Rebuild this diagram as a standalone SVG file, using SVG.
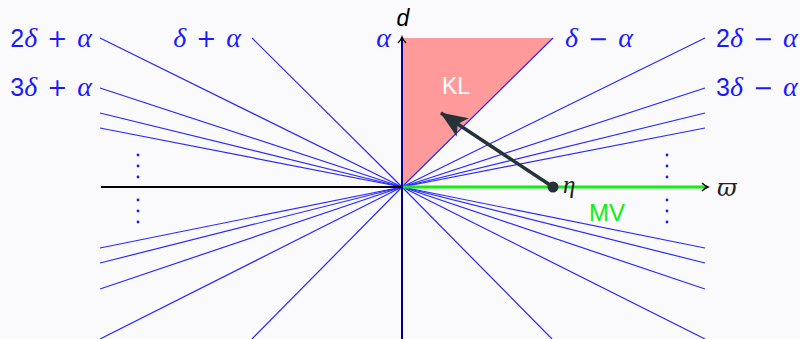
<svg xmlns="http://www.w3.org/2000/svg" width="800" height="339" viewBox="0 0 800 339">
<defs>
<style>
.ray{stroke:#2828ff;stroke-width:1.2;fill:none}
.lbl{font-family:"Liberation Serif",serif;font-size:28px;fill:#1a1aff;word-spacing:3px}
.it{font-style:italic}
.num{font-family:"Liberation Sans",sans-serif;font-style:normal;font-size:25px}
.op{font-family:"DejaVu Sans",sans-serif;font-size:24px}
.dot{fill:#1a1aff}
</style>
<marker id="tip" markerWidth="10" markerHeight="10" refX="7" refY="5" orient="auto" markerUnits="userSpaceOnUse">
<path d="M2,1 Q5,4 8,5 Q5,6 2,9" fill="none" stroke="#000" stroke-width="1.4"/>
</marker>
<marker id="big" markerWidth="30" markerHeight="24" refX="26" refY="12" orient="auto" markerUnits="userSpaceOnUse">
<path d="M0,1 L27,12 L0,23 L6,12 Z" fill="#263238"/>
</marker>
</defs>
<rect width="800" height="339" fill="#fafafc"/>
<g id="kl">
<polygon points="402,38 553,38 402,187" fill="#ff9a9a"/>
<text x="456" y="94" font-family="Liberation Sans,sans-serif" font-size="23" fill="#fff" text-anchor="middle">KL</text>
</g>
<g id="connectors">
<line class="ray" x1="402" y1="187" x2="100" y2="38"/>
<line class="ray" x1="402" y1="187" x2="252" y2="38"/>
<line class="ray" x1="402" y1="187" x2="100" y2="88"/>
<line class="ray" x1="402" y1="187" x2="100" y2="113"/>
<line class="ray" x1="402" y1="187" x2="100" y2="128"/>
<line class="ray" x1="402" y1="187" x2="705" y2="38"/>
<line class="ray" x1="402" y1="187" x2="553" y2="38"/>
<line class="ray" x1="402" y1="187" x2="705" y2="88"/>
<line class="ray" x1="402" y1="187" x2="705" y2="113"/>
<line class="ray" x1="402" y1="187" x2="705" y2="128"/>
<line class="ray" x1="402" y1="187" x2="100" y2="248"/>
<line class="ray" x1="402" y1="187" x2="100" y2="263"/>
<line class="ray" x1="402" y1="187" x2="100" y2="289"/>
<line class="ray" x1="402" y1="187" x2="100" y2="339"/>
<line class="ray" x1="402" y1="187" x2="252" y2="339"/>
<line class="ray" x1="402" y1="187" x2="705" y2="248"/>
<line class="ray" x1="402" y1="187" x2="705" y2="263"/>
<line class="ray" x1="402" y1="187" x2="705" y2="289"/>
<line class="ray" x1="402" y1="187" x2="705" y2="339"/>
<line class="ray" x1="402" y1="187" x2="552" y2="339"/>
<line x1="101" y1="187" x2="402" y2="187" stroke="#000" stroke-width="2"/>
<line x1="402" y1="187" x2="707" y2="187" stroke="#11ee11" stroke-width="3.2"/>
<line x1="700" y1="187" x2="707" y2="187" stroke="none" marker-end="url(#tip)"/>
<line x1="402" y1="339" x2="402" y2="38" stroke="#00008b" stroke-width="2" marker-end="url(#tip)"/>
<line x1="553" y1="187" x2="441" y2="113" stroke="#263238" stroke-width="3.5" marker-end="url(#big)"/>
<circle cx="553" cy="187" r="5.5" fill="#263238"/>
</g>
<g id="dots-left">
<circle class="dot" cx="138" cy="155" r="1.4"/>
<circle class="dot" cx="138" cy="166" r="1.4"/>
<circle class="dot" cx="138" cy="177" r="1.4"/>
<circle class="dot" cx="138" cy="200" r="1.4"/>
<circle class="dot" cx="138" cy="211" r="1.4"/>
<circle class="dot" cx="138" cy="222" r="1.4"/>
</g>
<g id="dots-right">
<circle class="dot" cx="667" cy="155" r="1.4"/>
<circle class="dot" cx="667" cy="166" r="1.4"/>
<circle class="dot" cx="667" cy="177" r="1.4"/>
<circle class="dot" cx="667" cy="200" r="1.4"/>
<circle class="dot" cx="667" cy="211" r="1.4"/>
<circle class="dot" cx="667" cy="222" r="1.4"/>
</g>
<g id="labels">
<text class="lbl" x="92" y="47" text-anchor="end"><tspan class="num">2</tspan><tspan class="it">δ</tspan> <tspan class="op">+</tspan> <tspan class="it">α</tspan></text>
<text class="lbl" x="92" y="96" text-anchor="end"><tspan class="num">3</tspan><tspan class="it">δ</tspan> <tspan class="op">+</tspan> <tspan class="it">α</tspan></text>
<text class="lbl" x="241" y="47" text-anchor="end"><tspan class="it">δ</tspan> <tspan class="op">+</tspan> <tspan class="it">α</tspan></text>
<text class="lbl it" x="391" y="47" text-anchor="end">α</text>
<text class="lbl" x="565" y="47"><tspan class="it">δ</tspan> <tspan class="op">−</tspan> <tspan class="it">α</tspan></text>
<text class="lbl" x="716" y="47"><tspan class="num">2</tspan><tspan class="it">δ</tspan> <tspan class="op">−</tspan> <tspan class="it">α</tspan></text>
<text class="lbl" x="716" y="96"><tspan class="num">3</tspan><tspan class="it">δ</tspan> <tspan class="op">−</tspan> <tspan class="it">α</tspan></text>
<text x="403" y="26" font-family="Liberation Sans,sans-serif" font-style="italic" font-size="23" fill="#000" text-anchor="middle">d</text>
<text x="563" y="193" font-family="Liberation Serif,serif" font-style="italic" font-size="25" fill="#222">η</text>
<text x="717" y="196" font-family="DejaVu Serif,serif" font-style="italic" font-size="24" fill="#222">ϖ</text>
<text x="607" y="221" font-family="Liberation Sans,sans-serif" font-size="24" fill="#11ee11" text-anchor="middle">MV</text>
</g>
</svg>
